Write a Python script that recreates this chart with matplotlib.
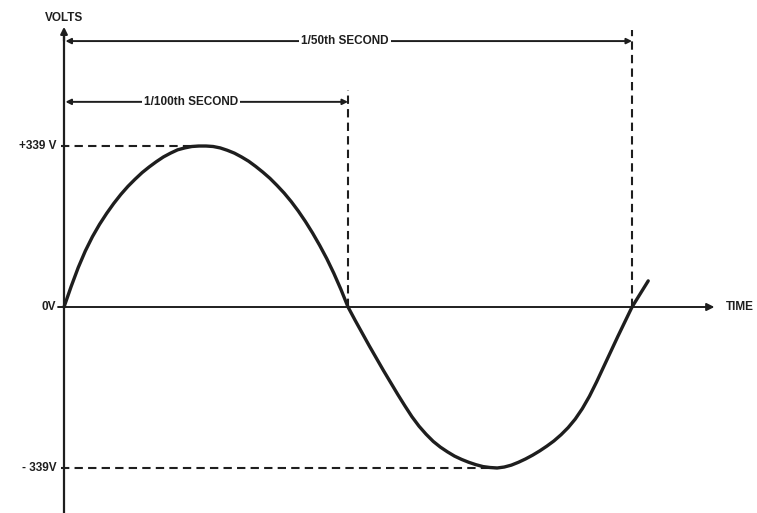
import matplotlib.pyplot as plt

# Mains voltage waveform, 50 Hz, 339 V peak (240 V rms)
PEAK_V = 339
HALF_PERIOD_MS = 10
PERIOD_MS = 20

# points along the drawn waveform: time in ms, voltage in V
time_ms = [0.00, 0.25, 0.50, 0.75, 1.00, 1.25, 1.50, 1.75, 2.00, 2.25,
           2.50, 2.75, 3.00, 3.25, 3.50, 3.75, 4.00, 4.25, 4.50, 4.75,
           5.00, 5.25, 5.50, 5.75, 6.00, 6.25, 6.50, 6.75, 7.00, 7.25,
           7.50, 7.75, 8.00, 8.25, 8.50, 8.75, 9.00, 9.25, 9.50, 9.75,
           10.00, 10.25, 10.50, 10.75, 11.00, 11.25, 11.50, 11.75, 12.00,
           12.25, 12.50, 12.75, 13.00, 13.25, 13.50, 13.75, 14.00, 14.25,
           14.50, 14.75, 15.00, 15.25, 15.50, 15.75, 16.00, 16.25, 16.50,
           16.75, 17.00, 17.25, 17.50, 17.75, 18.00, 18.25, 18.50, 18.75,
           19.00, 19.25, 19.50, 19.75, 20.00, 20.57]
volts = [0, 43, 83, 118, 148, 174, 197, 218, 237, 254,
         269, 283, 295, 306, 316, 324, 331, 335, 338, 339,
         339, 338, 335, 330, 324, 316, 307, 296, 284, 271,
         256, 240, 222, 202, 180, 156, 130, 102, 71, 37,
         0, -28, -55, -82, -108, -134, -159, -184, -208,
         -231, -251, -268, -283, -295, -305, -314, -321, -327,
         -332, -336, -338, -339, -337, -333, -327, -320, -312,
         -303, -293, -282, -269, -254, -236, -214, -188, -158,
         -126, -94, -62, -31, 0, 55]

y_labels = ['+339 V', '0V', '- 339V']
y_label_values = [PEAK_V, 0, -PEAK_V]

INK = '#1e1e1e'
FONT = dict(family=['Liberation Sans', 'DejaVu Sans'], fontweight='bold',
            color=INK)

fig = plt.figure(figsize=(7.57, 5.13), dpi=100, facecolor='white')
ax = fig.add_axes([0, 0, 1, 1])
ax.set_xlim(-2.254, 24.40)
ax.set_ylim(-433.8, 646.5)
ax.axis('off')

# axes drawn as plain arrows
ax.plot([0, 0], [-440, 575], color=INK, lw=1.6, solid_capstyle='butt')
ax.annotate('', xy=(0, 590), xytext=(0, 560),
            arrowprops=dict(arrowstyle='-|>', color=INK, lw=1.6,
                            mutation_scale=10, shrinkA=0, shrinkB=0))
ax.annotate('', xy=(22.9, 0), xytext=(-0.21, 0),
            arrowprops=dict(arrowstyle='-|>', color=INK, lw=1.4,
                            mutation_scale=11, shrinkA=0, shrinkB=0))
ax.text(23.3, 0, 'TIME', ha='left', va='center', fontsize=8.5, **FONT)
ax.text(0, 608, 'VOLTS', ha='center', va='center', fontsize=8.5, **FONT)

# value labels on the voltage axis
for lab, v in zip(y_labels, y_label_values):
    ax.text(-0.27, v, lab, ha='right', va='center', fontsize=8.5, **FONT)

# peak guide lines
peak_t = time_ms[volts.index(PEAK_V)]
trough_t = time_ms[volts.index(-PEAK_V)]
dash = dict(color=INK, lw=1.5, linestyle=(0, (4, 2.5)))
ax.plot([-0.1, peak_t], [PEAK_V, PEAK_V], **dash)
ax.plot([-0.1, trough_t], [-PEAK_V, -PEAK_V], **dash)

# half period and full period markers
ax.plot([HALF_PERIOD_MS, HALF_PERIOD_MS], [0, 457], **dash)
ax.plot([PERIOD_MS, PERIOD_MS], [0, 583], **dash)

for t_end, y, label, x_txt in [(HALF_PERIOD_MS, 432, '1/100th SECOND', 4.47),
                               (PERIOD_MS, 560, '1/50th SECOND', 9.89)]:
    ax.annotate('', xy=(0.05, y), xytext=(t_end, y),
                arrowprops=dict(arrowstyle='<|-|>', color=INK, lw=1.4,
                                mutation_scale=8, shrinkA=0, shrinkB=0))
    ax.text(x_txt, y, label, ha='center', va='center', fontsize=8.5,
            bbox=dict(facecolor='white', edgecolor='none', pad=1.5), **FONT)

# the waveform
ax.plot(time_ms, volts, color=INK, lw=2.4, solid_capstyle='round',
        solid_joinstyle='round')

fig.savefig('out.png', dpi=100, facecolor='white')
